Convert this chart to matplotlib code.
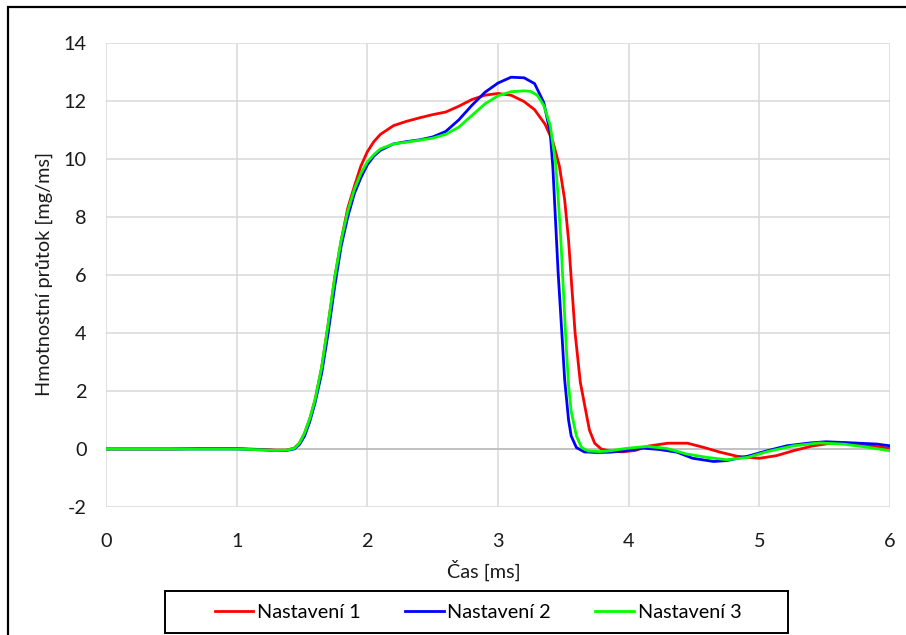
import matplotlib
matplotlib.use('Agg')
import matplotlib.pyplot as plt
from matplotlib.patches import Rectangle

# Data (time in ms, mass flow in mg/ms)
t_1 = [0, 0.5, 0.7, 1.0, 1.1, 1.2, 1.3, 1.38, 1.44, 1.48, 1.52, 1.56, 1.6,
       1.65, 1.7, 1.75, 1.8, 1.85, 1.9, 1.95, 2.0, 2.05, 2.1, 2.2, 2.3, 2.4,
       2.5, 2.6, 2.7, 2.8, 2.9, 3.0, 3.1, 3.2, 3.28, 3.36, 3.42, 3.47, 3.51,
       3.54, 3.56, 3.59, 3.63, 3.67, 3.70, 3.74, 3.79, 3.86, 3.95, 4.05,
       4.15, 4.3, 4.45, 4.57, 4.7, 4.83, 5.0, 5.13, 5.26, 5.4, 5.58, 5.77,
       5.9, 6.0]
v_1 = [0, 0, 0.02, 0.02, 0, -0.02, -0.04, -0.04, 0.03, 0.2, 0.55, 1.05,
       1.7, 2.8, 4.3, 5.9, 7.2, 8.3, 9.05, 9.75, 10.25, 10.6, 10.85, 11.15,
       11.3, 11.42, 11.53, 11.62, 11.82, 12.05, 12.2, 12.26, 12.2, 11.98,
       11.7, 11.2, 10.6, 9.75, 8.6, 7.2, 5.9, 4.0, 2.3, 1.35, 0.65, 0.2,
       0.0, -0.07, -0.1, -0.05, 0.1, 0.2, 0.2, 0.06, -0.11, -0.25, -0.32,
       -0.23, -0.06, 0.1, 0.22, 0.17, 0.08, 0.02]

t_2 = [0, 1.0, 1.2, 1.3, 1.38, 1.44, 1.48, 1.52, 1.56, 1.6, 1.65, 1.7, 1.75,
       1.8, 1.85, 1.9, 1.95, 2.0, 2.05, 2.1, 2.2, 2.3, 2.4, 2.5, 2.6, 2.7,
       2.8, 2.9, 3.0, 3.1, 3.2, 3.28, 3.35, 3.40, 3.42, 3.44, 3.46, 3.49,
       3.51, 3.54, 3.56, 3.60, 3.66, 3.75, 3.86, 3.98, 4.11, 4.24, 4.37,
       4.49, 4.65, 4.75, 4.91, 5.06, 5.21, 5.39, 5.51, 5.72, 5.9, 6.0]
v_2 = [0, 0, -0.03, -0.05, -0.05, 0.0, 0.15, 0.45, 0.95, 1.6, 2.6, 4.0,
       5.6, 7.0, 8.0, 8.8, 9.35, 9.8, 10.1, 10.3, 10.52, 10.6, 10.66, 10.76,
       10.95, 11.35, 11.85, 12.3, 12.62, 12.82, 12.8, 12.6, 11.95, 10.9,
       9.7, 7.9, 6.1, 3.9, 2.4, 1.0, 0.45, 0.05, -0.1, -0.12, -0.11, -0.06,
       0.03, -0.02, -0.11, -0.32, -0.43, -0.4, -0.25, -0.06, 0.11, 0.21,
       0.25, 0.21, 0.17, 0.11]

t_3 = [0, 1.0, 1.2, 1.3, 1.38, 1.44, 1.48, 1.52, 1.56, 1.6, 1.65, 1.7, 1.75,
       1.8, 1.85, 1.9, 1.95, 2.0, 2.05, 2.1, 2.2, 2.3, 2.4, 2.5, 2.6, 2.7,
       2.8, 2.9, 3.0, 3.1, 3.2, 3.25, 3.3, 3.35, 3.40, 3.44, 3.46, 3.48,
       3.50, 3.52, 3.54, 3.56, 3.60, 3.64, 3.69, 3.78, 3.86, 3.98, 4.14,
       4.29, 4.44, 4.6, 4.75, 4.91, 5.06, 5.26, 5.46, 5.64, 5.8, 6.0]
v_3 = [0, 0, -0.03, -0.05, -0.04, 0.02, 0.2, 0.55, 1.05, 1.7, 2.8, 4.3,
       5.9, 7.2, 8.2, 8.95, 9.5, 9.9, 10.15, 10.35, 10.52, 10.58, 10.65,
       10.72, 10.85, 11.1, 11.5, 11.9, 12.18, 12.32, 12.35, 12.33, 12.2,
       11.85, 11.15, 9.9, 8.7, 7.3, 5.5, 3.7, 2.2, 1.3, 0.45, 0.05, -0.07,
       -0.09, -0.06, 0.02, 0.09, 0.02, -0.17, -0.29, -0.37, -0.29, -0.09,
       0.11, 0.21, 0.17, 0.08, -0.06]

labels = ['Nastavení 1', 'Nastavení 2', 'Nastavení 3']
colors = ['#FF0000', '#0000FF', '#00FF00']

plt.rcParams['font.family'] = ['Lato', 'DejaVu Sans']
plt.rcParams['axes.unicode_minus'] = False
FS = 14.3
W, H = 906, 635

fig = plt.figure(figsize=(W / 100, H / 100), dpi=100)
ax = fig.add_axes([106 / W, 1 - 507 / H, 784 / W, 464 / H])

for t, v, lab, c in zip([t_1, t_2, t_3], [v_1, v_2, v_3], labels, colors):
    ax.plot(t, v, color=c, lw=2.0, label=lab, zorder=3,
            solid_joinstyle='round')

ax.set_xlim(0, 6)
ax.set_ylim(-2, 14)
ax.set_xticks(range(0, 7))
ax.set_yticks(range(-2, 15, 2))
ax.grid(True, color='#d9d9d9', lw=1.1)
ax.axhline(0, color='#bfbfbf', lw=1.3, zorder=2)
for s in ax.spines.values():
    s.set_visible(False)
ax.tick_params(length=0, labelsize=FS, labelcolor='#1a1a1a')
ax.tick_params(axis='x', pad=19)
ax.tick_params(axis='y', pad=14)

fig.text(484 / W, 1 - 570 / H, 'Čas [ms]', ha='center', va='center',
         fontsize=FS, color='#1a1a1a')
fig.text(44 / W, 1 - 274 / H, 'Hmotnostní průtok [mg/ms]', ha='center',
         va='center', rotation=90, fontsize=FS, color='#1a1a1a')

leg = ax.legend(loc='center', bbox_to_anchor=(478 / W, 1 - 612 / H),
                bbox_transform=fig.transFigure, ncol=3, frameon=False,
                fontsize=FS, handlelength=1.95, handletextpad=0.2,
                columnspacing=2.2)

# legend box and outer chart border
fig.add_artist(Rectangle((165 / W, 1 - 633 / H), 623 / W, 42 / H,
                         transform=fig.transFigure, fill=False,
                         ec='black', lw=1.4))
fig.add_artist(Rectangle((7.5 / W, -0.1), 1.2, 1.1 - 7.5 / H,
                         transform=fig.transFigure, fill=False,
                         ec='black', lw=1.6))

fig.savefig('out.png', dpi=100)
